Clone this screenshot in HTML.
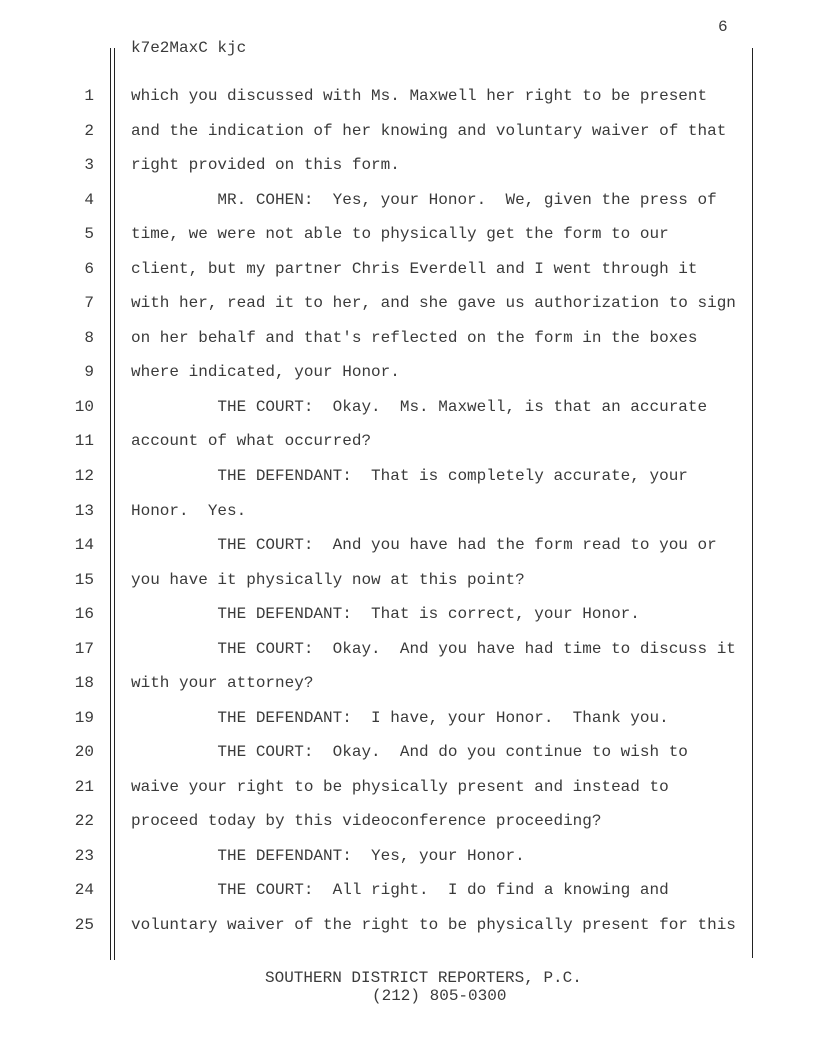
<!DOCTYPE html>
<html><head><meta charset="utf-8"><style>
body{margin:0;width:816px;height:1056px;background:#fff;position:relative;font-family:"Liberation Mono",monospace;font-size:16px;color:#3a3a3a;overflow:hidden}
.a{position:absolute;white-space:pre;line-height:20px}
.n{position:absolute;width:40px;left:54px;text-align:right;line-height:20px}
.v{position:absolute;width:1px;background:#222}
</style></head><body>
<div class="a" style="left:718px;top:17px">6</div>
<div class="a" style="left:131px;top:38px">k7e2MaxC kjc</div>
<div class="v" style="left:110px;top:48px;height:912px"></div>
<div class="v" style="left:114px;top:48px;height:912px"></div>
<div class="v" style="left:752px;top:48px;height:910px"></div>
<div id="t"></div>
<div class="a" style="left:265px;top:968px">SOUTHERN DISTRICT REPORTERS, P.C.</div>
<div class="a" style="left:372px;top:986px">(212) 805-0300</div>
<script>
var L=["which you discussed with Ms. Maxwell her right to be present",
"and the indication of her knowing and voluntary waiver of that",
"right provided on this form.",
"         MR. COHEN:  Yes, your Honor.  We, given the press of",
"time, we were not able to physically get the form to our",
"client, but my partner Chris Everdell and I went through it",
"with her, read it to her, and she gave us authorization to sign",
"on her behalf and that's reflected on the form in the boxes",
"where indicated, your Honor.",
"         THE COURT:  Okay.  Ms. Maxwell, is that an accurate",
"account of what occurred?",
"         THE DEFENDANT:  That is completely accurate, your",
"Honor.  Yes.",
"         THE COURT:  And you have had the form read to you or",
"you have it physically now at this point?",
"         THE DEFENDANT:  That is correct, your Honor.",
"         THE COURT:  Okay.  And you have had time to discuss it",
"with your attorney?",
"         THE DEFENDANT:  I have, your Honor.  Thank you.",
"         THE COURT:  Okay.  And do you continue to wish to",
"waive your right to be physically present and instead to",
"proceed today by this videoconference proceeding?",
"         THE DEFENDANT:  Yes, your Honor.",
"         THE COURT:  All right.  I do find a knowing and",
"voluntary waiver of the right to be physically present for this"];
var h="";
for(var i=0;i<25;i++){var y=(86+i*34.54).toFixed(1);
h+='<div class="n" style="top:'+y+'px">'+(i+1)+'</div><div class="a" style="left:131px;top:'+y+'px">'+L[i].replace(/&/g,"&amp;").replace(/</g,"&lt;")+'</div>';}
document.getElementById("t").innerHTML=h;
</script>
</body></html>
